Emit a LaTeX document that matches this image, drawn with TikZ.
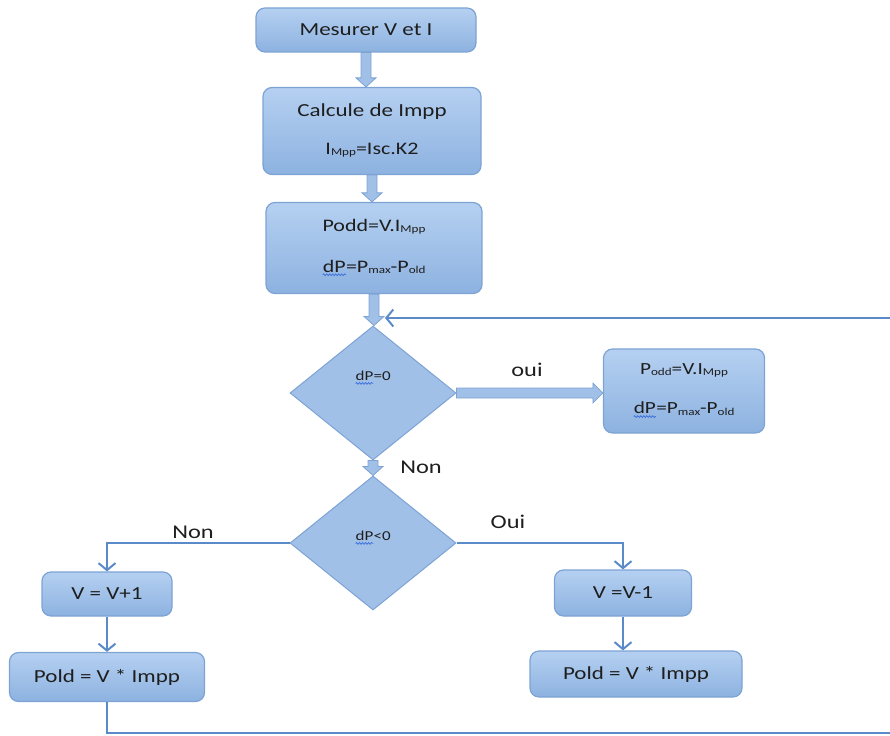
\documentclass[tikz,border=0pt]{standalone}
\usepackage{fontspec}
\setmainfont{Carlito}[FakeStretch=1.25]
\usetikzlibrary{shapes.geometric,arrows.meta,calc,decorations.pathmorphing}

\definecolor{boxtop}{HTML}{B5D0F1}
\definecolor{boxbot}{HTML}{8DB2E0}
\definecolor{boxline}{HTML}{7DA3D4}
\definecolor{diafill}{HTML}{A0C0E8}
\definecolor{flow}{HTML}{5A8BC8}
\definecolor{ink}{HTML}{1E1E1E}
\definecolor{squig}{HTML}{3A6FD8}

% font size helper and small lowered index text
\newcommand\setfs[1]{\fontsize{#1}{#1}\selectfont}
\newcommand\lowsub[1]{\raisebox{-1.2pt}{\fontsize{10.5}{10.5}\selectfont #1}}
% word with a wavy blue underline
\newcommand\squig[1]{\tikz[baseline=(sqw.base)]{%
  \node[inner sep=0pt, outer sep=0pt] (sqw) {#1};
  \draw[draw=squig, line width=0.7pt, decorate,
    decoration={snake, amplitude=0.9pt, segment length=3pt}]
    ([yshift=-2.5pt]sqw.south west) -- ([yshift=-2.5pt]sqw.south east);}}

% fat block arrows (down and right), drawn from the first point towards the second
\newcommand\fatdown[2]{\path[fat] let \p1=(#1), \p2=(#2) in
  (\x1-5pt,\y1) -- (\x1+5pt,\y1) -- (\x1+5pt,\y2+9pt) -- (\x1+10pt,\y2+9pt) --
  (\x1,\y2) -- (\x1-10pt,\y2+9pt) -- (\x1-5pt,\y2+9pt) -- cycle;}
\newcommand\fatright[2]{\path[fat] let \p1=(#1), \p2=(#2) in
  (\x1,\y1+5pt) -- (\x1,\y1-5pt) -- (\x2-10pt,\y1-5pt) -- (\x2-10pt,\y1-10pt) --
  (\x2,\y1) -- (\x2-10pt,\y1+10pt) -- (\x2-10pt,\y1+5pt) -- cycle;}

\begin{document}
\begin{tikzpicture}[x=1pt,y=-1pt,
  box/.style={rectangle, rounded corners=9pt, draw=boxline, line width=1.2pt,
    top color=boxtop, bottom color=boxbot, text=ink, align=center, inner sep=0pt},
  txt/.style={text=ink, inner sep=0pt},
  dia/.style={diamond, draw=boxline, fill=diafill, line width=1pt,
    minimum width=166pt, minimum height=134pt, inner sep=0pt},
  dtext/.style={txt, font=\setfs{13.6}},
  lbl/.style={txt, font=\setfs{19.5}},
  fat/.style={draw=boxline, fill=diafill, line width=0.8pt, line join=miter},
  link/.style={draw=flow, line width=2.2pt,
    -{Straight Barb[length=7pt,width=17pt,line width=2pt]}}]
\useasboundingbox (0,0) rectangle (890,735);

% main column
\node[box, minimum width=220pt, minimum height=44pt, font=\setfs{18.4}] (mes) at (366,30) {Mesurer V et I};
\node[box, minimum width=218pt, minimum height=87pt] (calc) at (372,131) {};
\node[txt, font=\setfs{18.4}] (calc1) at (372,112) {Calcule de Impp};
\node[txt, font=\setfs{17.6}] (calc2) at (372,150) {I\lowsub{Mpp}=Isc.K2};
\node[box, minimum width=216pt, minimum height=91pt] (podd) at (374,248) {};
\node[txt, font=\setfs{17.6}] (podd1) at (374,227) {Podd=V.I\lowsub{Mpp}};
\node[txt, font=\setfs{17.6}] (podd2) at (374,268) {\squig{dP}=P\lowsub{max}-P\lowsub{old}};

% decisions
\node[dia] (d1) at (373,393) {};
\node[dtext] (d1t) at (373,378) {\squig{dP}=0};
\node[dia] (d2) at (373,543) {};
\node[dtext] (d2t) at (373,538) {\squig{dP}<0};

% result of the first test
\node[box, minimum width=161pt, minimum height=84pt] (res) at (684,391) {};
\node[txt, font=\setfs{17}] (res1) at (684,370) {P\lowsub{odd}=V.I\lowsub{Mpp}};
\node[txt, font=\setfs{17}] (res2) at (684,410) {\squig{dP}=P\lowsub{max}-P\lowsub{old}};

% branches
\node[box, minimum width=130pt, minimum height=44pt, font=\setfs{18.4}] (vp) at (107,594) {V = V+1};
\node[box, minimum width=195pt, minimum height=49pt, font=\setfs{18.4}] (pl) at (107,677) {Pold = V * Impp};
\node[box, minimum width=137pt, minimum height=46pt, font=\setfs{18.4}] (vm) at (623,593) {V =V-1};
\node[box, minimum width=212pt, minimum height=46pt, font=\setfs{18.4}] (pr) at (636,674) {Pold = V * Impp};

% block arrows
\fatdown{mes.south}{calc.north}
\fatdown{calc.south}{podd.north}
\fatdown{podd.south}{d1.north}
\fatdown{d1.south}{d2.north}
\fatright{d1.east}{res.west}

% labels
\node[lbl] (oui) at (527,370) {oui};
\node[lbl] (non1) at (421,467) {Non};
\node[lbl] (non2) at (193,532) {Non};
\node[lbl] (oui2) at (508,522) {Oui};

% thin connectors; the return loop runs past the right edge
\coordinate (lc1) at (895,733);
\coordinate (lc2) at (895,318);
\coordinate (join) at (385,318);
\draw[link] (d2.west) -| (vp.north);
\draw[link] (vp.south) -- (pl.north);
\draw[link] (d2.east) -| (vm.north);
\draw[link] (vm.south) -- (vm.south |- pr.north);
\draw[link] (pl.south) |- (lc1) -- (lc2) -- (join);
\end{tikzpicture}
\end{document}
